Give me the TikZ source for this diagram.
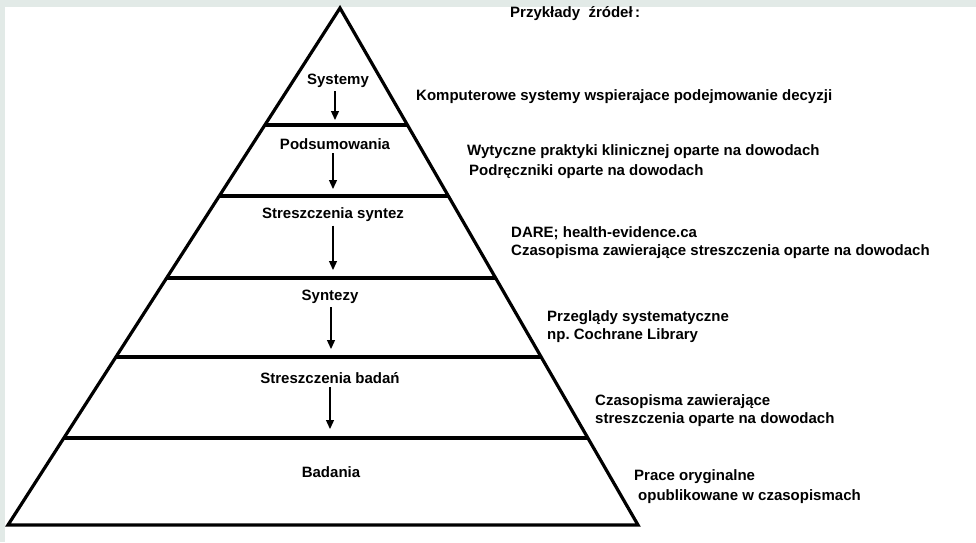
\documentclass[tikz,border=0pt]{standalone}
\usepackage{fontspec}
\setmainfont{Liberation Sans}
\usepackage{tikz}
\usetikzlibrary{calc}
\usetikzlibrary{arrows.meta}
\definecolor{colFrame}{HTML}{E2EAE7}
\frenchspacing

\begin{document}
\begin{tikzpicture}[x=1pt,y=-1pt,
    level/.style={font=\fontsize{15}{17}\selectfont\bfseries},
    source/.style={font=\fontsize{15}{17}\selectfont\bfseries,anchor=west,inner sep=0pt},
    down/.style={-{Triangle[length=9pt,width=8pt]},line width=1.3pt},
    edge/.style={line width=3.2pt,line cap=round,line join=miter}]

 % ================================================================
 % frame
 % ================================================================
	\fill[white] (0,0) rectangle (976,542);
	\fill[colFrame] (0,0) rectangle (976,7);
	\fill[colFrame] (0,0) rectangle (5,542);
	\useasboundingbox (0,0) rectangle (976,542);

 % ================================================================
 % pyramid
 % ================================================================
	\coordinate (top) at (340,8);
	\coordinate (bl) at (8,525);
	\coordinate (br) at (638,525);
	\draw[edge] (bl) -- (top) -- (br) -- cycle;

        % layer lines
        \foreach \t [count=\i] in {0.2263,0.3636,0.5222,0.6750,0.8317} {
          \coordinate (l\i) at ($(top)!\t!(bl)$);
          \coordinate (r\i) at ($(top)!\t!(br)$);
          \draw[edge,line cap=butt] (l\i) -- (r\i);
        }

        % levels
        \node[level] (sys) at (338,81) {Systemy};
        \node[level] (pod) at (335,144) {Podsumowania};
        \node[level] (ssy) at (333,215) {Streszczenia syntez};
        \node[level] (syn) at (330,297) {Syntezy};
        \node[level] (sba) at (330,378) {Streszczenia badań};
        \node[level] (bad) at (331,472) {Badania};

        % arrows down
        \coordinate (a1) at (335,120);
        \coordinate (a2) at (333,189);
        \coordinate (a3) at (333,270);
        \coordinate (a4) at (331,349);
        \coordinate (a5) at (330,429);
        \draw[down] ([xshift=-3pt]sys.south) -- (a1);
        \draw[down] ([xshift=-2pt]pod.south) -- (a2);
        \draw[down] (ssy.south) -- (a3);
        \draw[down] ([xshift=1pt]syn.south) -- (a4);
        \draw[down] (sba.south) -- (a5);

 % ================================================================
 % sources
 % ================================================================
        \node[source] (tit) at (510,14) {Przykłady\ \ źródeł\,:};
        \node[source] (s1) at (416,97) {Komputerowe systemy wspierajace podejmowanie decyzji};
        \node[source] (s2a) at (467,152) {Wytyczne praktyki klinicznej oparte na dowodach};
        \node[source] (s2b) at (469,172) {Podręczniki oparte na dowodach};
        \node[source] (s3a) at (511,233) {DARE; health-evidence.ca};
        \node[source] (s3b) at (511,252) {Czasopisma zawierające streszczenia oparte na dowodach};
        \node[source] (s4a) at (547,318) {Przeglądy systematyczne};
        \node[source] (s4b) at (547,336) {np. Cochrane Library};
        \node[source] (s5a) at (595,402) {Czasopisma zawierające};
        \node[source] (s5b) at (595,420) {streszczenia oparte na dowodach};
        \node[source] (s6a) at (634,477) {Prace oryginalne};
        \node[source] (s6b) at (638,497) {opublikowane w czasopismach};

\end{tikzpicture}
\end{document}
